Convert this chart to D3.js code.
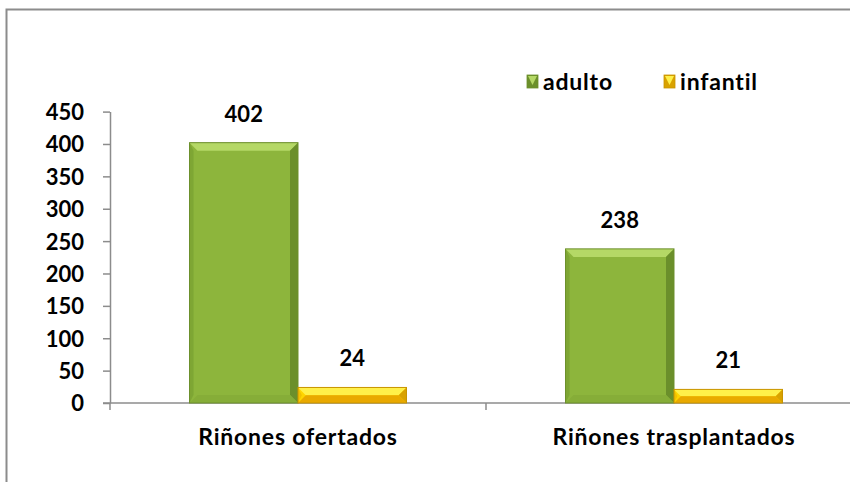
<!DOCTYPE html>
<html>
<head>
<meta charset="utf-8">
<script src="https://cdn.jsdelivr.net/npm/d3@7"></script>
<style>
  body { margin: 0; background: #fff; }
  text { font-family: Lato, "Liberation Sans", sans-serif; font-weight: bold; fill: #000; }
</style>
</head>
<body>
<script>
'use strict';
(function() {

  // chart data
  const categories = ["Riñones ofertados", "Riñones trasplantados"];
  const seriesNames = ["adulto", "infantil"];
  const adulto = [402, 238];
  const infantil = [24, 21];
  const yTicks = [0, 50, 100, 150, 200, 250, 300, 350, 400, 450];

  const values = { adulto: adulto, infantil: infantil };

  // colours for the bevelled bars: body, top, left, right, bottom, outline
  const palette = {
    adulto:   { body: "#8db53c", top: "#b5d866", left: "#7ea634", right: "#6b8f2b", bottom: "#86ad38", line: "#6c8f2c" },
    infantil: { body: "#ffd400", top: "#fff04a", left: "#f2c000", right: "#d9a200", bottom: "#e9a900", line: "#c89400" }
  };

  const svg = d3.select("body").append("svg")
    .attr("width", 850)
    .attr("height", 482);

  // outer chart frame (runs off the right and bottom edges)
  svg.append("rect")
    .attr("x", 6.5).attr("y", 9.5)
    .attr("width", 900).attr("height", 600)
    .attr("fill", "none")
    .attr("stroke", "#8c8c8c")
    .attr("stroke-width", 2);

  // scales
  const x0 = d3.scaleBand()
    .domain(categories)
    .range([110, 862])
    .padding(0);

  const x1 = d3.scaleBand()
    .domain(seriesNames)
    .range([0, x0.bandwidth()])
    .paddingInner(0)
    .paddingOuter(0.733);

  const y = d3.scaleLinear()
    .domain([0, 450])
    .range([403, 111.6]);

  // y axis
  const yAxis = d3.axisLeft(y)
    .tickValues(yTicks)
    .tickSize(7)
    .tickPadding(19)
    .tickSizeOuter(0);

  const gy = svg.append("g")
    .attr("transform", "translate(110, 0)")
    .call(yAxis);
  gy.selectAll("path, line").attr("stroke", "#8c8c8c").attr("stroke-width", 1.5);
  gy.selectAll("text").style("font-size", "22px").attr("dy", "0.36em");

  // x axis: baseline with ticks at category boundaries
  const gx = svg.append("g");
  gx.append("line")
    .attr("x1", 103).attr("x2", 850)
    .attr("y1", y(0)).attr("y2", y(0))
    .attr("stroke", "#8c8c8c").attr("stroke-width", 1.5);
  gx.selectAll(".xtick")
    .data(categories)
    .enter()
    .append("line")
      .attr("x1", (d) => x0(d)).attr("x2", (d) => x0(d))
      .attr("y1", y(0)).attr("y2", y(0) + 7)
      .attr("stroke", "#8c8c8c").attr("stroke-width", 1.5);
  gx.selectAll(".xlabel")
    .data(categories)
    .enter()
    .append("text")
      .attr("x", (d) => x0(d) + x0.bandwidth() / 2)
      .attr("y", 445)
      .attr("text-anchor", "middle")
      .style("font-size", "23px")
      .style("letter-spacing", "0.8px")
      .text((d) => d);

  // bevelled bar drawing
  function drawBar(g, bx, by, bw, bh, c) {
    const b = Math.min(8, bh / 2);
    g.append("rect")
      .attr("x", bx).attr("y", by).attr("width", bw).attr("height", bh)
      .attr("fill", c.body);
    // top bevel
    g.append("polygon")
      .attr("points", [[bx, by], [bx + bw, by], [bx + bw - b, by + b], [bx + b, by + b]].join(" "))
      .attr("fill", c.top);
    // left bevel
    g.append("polygon")
      .attr("points", [[bx, by], [bx + b / 2, by + b], [bx + b / 2, by + bh - b], [bx, by + bh]].join(" "))
      .attr("fill", c.left);
    // right bevel
    g.append("polygon")
      .attr("points", [[bx + bw, by], [bx + bw, by + bh], [bx + bw - b, by + bh - b], [bx + bw - b, by + b]].join(" "))
      .attr("fill", c.right);
    // bottom bevel
    g.append("polygon")
      .attr("points", [[bx, by + bh], [bx + b, by + bh - b], [bx + bw - b, by + bh - b], [bx + bw, by + bh]].join(" "))
      .attr("fill", c.bottom);
    g.append("rect")
      .attr("x", bx).attr("y", by).attr("width", bw).attr("height", bh)
      .attr("fill", "none")
      .attr("stroke", c.line)
      .attr("stroke-width", 1);
  }

  // bars and value labels
  categories.forEach((cat, i) => {
    seriesNames.forEach((s) => {
      const v = values[s][i];
      const bx = x0(cat) + x1(s);
      const bw = x1.bandwidth();
      const g = svg.append("g");
      drawBar(g, bx, y(v), bw, y(0) - y(v), palette[s]);
      svg.append("text")
        .attr("x", bx + bw / 2)
        .attr("y", y(v) - 21)
        .attr("text-anchor", "middle")
        .style("font-size", "22px")
        .text(v);
    });
  });

  // legend
  const legendX = { adulto: 527, infantil: 664 };
  const legend = svg.append("g");
  seriesNames.forEach((s) => {
    const lg = legend.append("g").attr("transform", "translate(" + legendX[s] + ", 75)");
    lg.append("rect")
      .attr("width", 11).attr("height", 13)
      .attr("fill", palette[s].right)
      .attr("stroke", palette[s].line).attr("stroke-width", 0.8);
    lg.append("polygon")
      .attr("points", "1,1 10,1 5.5,10")
      .attr("fill", palette[s].top);
    lg.append("text")
      .attr("x", 16)
      .attr("y", 15)
      .style("font-size", "23px")
      .style("letter-spacing", "0.8px")
      .text(s);
  });

})();
</script>
</body>
</html>
